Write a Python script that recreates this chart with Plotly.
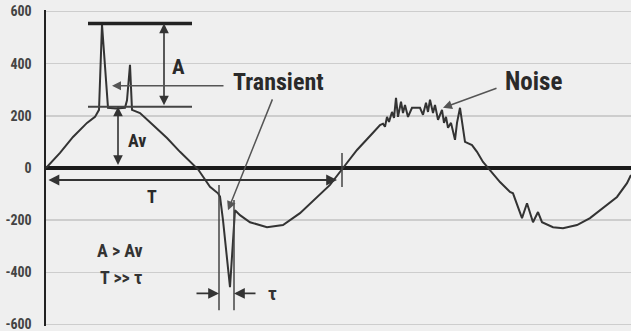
import plotly.graph_objects as go

# waveform samples (t in chart units, v in volts-like units)
t_vals = [0, 14, 27, 41, 49, 53, 56, 62, 70, 79, 81, 84, 86, 94, 107, 121, 134, 144, 152,
          164, 172, 174, 177, 184, 187, 189, 194, 204, 221, 237, 254, 271, 284, 297,
          311, 327, 334, 337, 339, 341, 343, 346, 348, 350, 352, 355, 357, 359, 362, 366,
          371, 374, 377, 380, 382, 384, 387, 389, 392, 396, 398, 400, 402, 405, 409, 411,
          414, 417, 419, 426, 431, 437, 442, 444, 454, 464, 467, 476, 481, 487, 492, 496,
          507, 517, 531, 544, 557, 571, 581, 585]
v_vals = [0, 58, 119, 173, 196, 223, 550, 231, 228, 231, 260, 396, 223, 211, 165, 115, 62, 25, -5,
          -72, -97, -110, -200, -457, -300, -162, -181, -208, -227, -219, -173, -111, -65, 0,
          69, 135, 165, 170, 158, 196, 177, 215, 192, 269, 196, 254, 211, 242, 196, 231,
          231, 231, 204, 250, 215, 262, 211, 242, 185, 223, 173, 196, 154, 173, 108, 173,
          231, 158, 100, 88, 62, 23, 0, -8, -54, -92, -97, -192, -135, -208, -169, -208,
          -227, -231, -219, -192, -154, -111, -58, -27]

y_ticks = [-600, -400, -200, 0, 200, 400, 600]
y_tick_text = ["-600", "-400", "-200", "0", "200", "400", "600"]

BG = "#efefef"
INK = "#2a2a2a"
NARROW = "Liberation Sans Narrow, Arial Narrow, Roboto Condensed, sans-serif"

fig = go.Figure()
fig.add_trace(go.Scatter(x=t_vals, y=v_vals, mode="lines",
                         line=dict(color="#333333", width=2), hoverinfo="skip",
                         showlegend=False))

shapes = [
    # top and bottom reference lines for A
    dict(type="line", x0=42, x1=146, y0=554, y1=554, line=dict(color="#222222", width=3.5)),
    dict(type="line", x0=42, x1=146, y0=235, y1=235, line=dict(color="#444444", width=2)),
    # T marker tick at zero crossing
    dict(type="line", x0=296, x1=296, y0=58, y1=-73, line=dict(color="#444444", width=1.5)),
    # tau limit lines
    dict(type="line", x0=173, x1=173, y0=-65, y1=-546, line=dict(color="#444444", width=1.5)),
    dict(type="line", x0=188, x1=188, y0=-123, y1=-546, line=dict(color="#444444", width=1.5)),
]

def arrow(x, y, ax, ay, both=False, width=1.6, color="#333333"):
    return dict(x=x, y=y, ax=ax, ay=ay, xref="x", yref="y", axref="x", ayref="y",
                text="", showarrow=True, arrowhead=2, arrowsize=1.2, arrowwidth=width,
                arrowcolor=color, arrowside="end+start" if both else "end", standoff=0,
                startstandoff=0, startarrowhead=2, startarrowsize=1.2)

def label(x, y, text, size, color=INK):
    return dict(x=x, y=y, xref="x", yref="y", text=text, showarrow=False,
                font=dict(family=NARROW, size=size, color=color, weight="bold"))

annotations = [
    arrow(118, 554, 118, 235, both=True),
    arrow(72, 235, 72, 6, both=True),
    arrow(66, 315, 179, 315, width=1.5, color="#555555"),
    arrow(182, -162, 227, 269, width=1.5, color="#555555"),
    arrow(397, 231, 452, 308, width=1.5, color="#555555"),
    arrow(291, -46, 1, -46, both=True, width=1.8),
    arrow(173, -481, 149, -481, width=1.8),
    arrow(188, -481, 211, -481, width=1.8),
    label(132, 388, "A", 21),
    label(91, 104, "Av", 18),
    label(232, 330, "Transient", 24),
    label(487, 330, "Noise", 25),
    label(106, -108, "T", 18),
    label(74, -315, "A &gt; Av", 18, "#333333"),
    label(75, -419, "T &gt;&gt; τ", 18, "#333333"),
    label(226, -481, "τ", 19, "#333333"),
]

fig.update_layout(
    width=631, height=331,
    margin=dict(l=46, r=0, t=10.44, b=5.44, autoexpand=False),
    paper_bgcolor=BG, plot_bgcolor=BG,
    shapes=shapes, annotations=annotations,
    xaxis=dict(range=[0, 585], showgrid=False, zeroline=False, showticklabels=False,
               showline=False, fixedrange=True, automargin=False),
    yaxis=dict(range=[-606, 606], tickvals=y_ticks, ticktext=y_tick_text,
               showgrid=True, gridcolor="#cdcdcd", gridwidth=1.5,
               zeroline=True, zerolinecolor="#1a1a1a", zerolinewidth=3.5,
               showline=True, linecolor="#222222", linewidth=2.5,
               ticks="", ticklabelstandoff=9, automargin=False, fixedrange=True,
               ticklabeloverflow="allow",
               tickfont=dict(family=NARROW, size=14, color="#444444", weight="bold")),
)

fig.write_html(
    "out.html",
    config={"displayModeBar": False, "staticPlot": True},
    post_script="document.body.style.margin='0';document.body.style.background='%s';" % BG,
)
